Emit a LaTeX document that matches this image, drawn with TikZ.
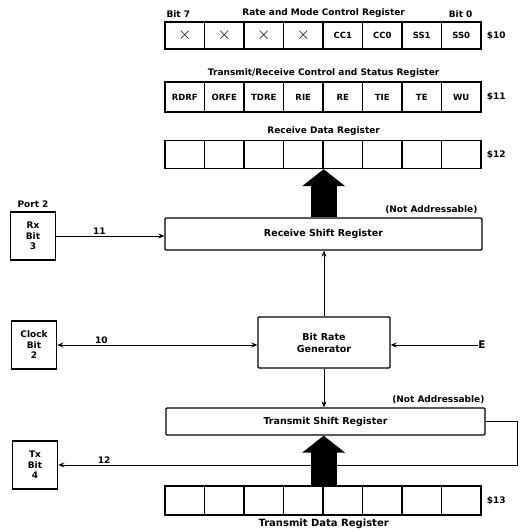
\documentclass[tikz,border=0pt]{standalone}
\usepackage{fontspec}
\setmainfont{DejaVu Sans}
\usetikzlibrary{arrows.meta,positioning,calc}

\begin{document}
\begin{tikzpicture}[
    x=1pt, y=-1pt,
    cell/.style={rectangle, draw, line width=1.3pt, minimum width=39.5pt,
                 minimum height=28pt, inner sep=0pt, font=\bfseries\fontsize{8.5}{9}\selectfont},
    unit/.style={rectangle, draw, line width=1.3pt, rounded corners=1pt, align=center,
                 inner sep=0pt, font=\bfseries\fontsize{9.5}{12}\selectfont},
    pin/.style={rectangle, draw, line width=1.5pt, minimum width=45pt, minimum height=48pt,
                align=center, inner sep=0pt, font=\bfseries\fontsize{9}{10.5}\selectfont},
    caption/.style={font=\bfseries\fontsize{9}{10}\selectfont, inner sep=1pt},
    addr/.style={font=\bfseries\fontsize{9}{10}\selectfont, inner sep=1pt},
    wire/.style={line width=0.9pt},
    fat/.style={line width=26pt, -{Triangle[length=17pt 0,width=42pt 0]}},
    >={Stealth[length=6pt,width=5pt]}
]
\useasboundingbox (0,0) rectangle (519,532);

\foreach \lbl [count=\i] in {\fontsize{16}{16}\selectfont$\times$,\fontsize{16}{16}\selectfont$\times$,
                             \fontsize{16}{16}\selectfont$\times$,\fontsize{16}{16}\selectfont$\times$,CC1,CC0,SS1,SS0}
  \node[cell, minimum height=27pt] (rm\i) at ({145.25+39.5*\i},35.5) {\lbl};
\foreach \lbl [count=\i] in {RDRF,ORFE,TDRE,RIE,RE,TIE,TE,WU}
  \node[cell, minimum height=30pt] (sc\i) at ({145.25+39.5*\i},97) {\lbl};
\foreach \i in {1,...,8}
  \node[cell] (rd\i) at ({145.25+39.5*\i},154.5) {};
\foreach \i in {1,...,8}
  \node[cell, minimum height=29pt] (td\i) at ({145.25+39.5*\i},500.5) {};

\node[addr, right=4pt of rm8] (a10) {\$10};
\node[addr, right=4pt of sc8] (a11) {\$11};
\node[addr, right=4pt of rd8] (a12) {\$12};
\node[addr, right=4pt of td8] (a13) {\$13};

\node[caption, above right=3pt and 1pt of rm1.north west] (bit7) {Bit 7};
\node[caption, above left=3pt and 8pt of rm8.north east] (bit0) {Bit 0};
\node[caption, above=3pt of rm4.north east] (rmt) {Rate and Mode Control Register};
\node[caption, above=3pt of sc4.north east] (sct) {Transmit/Receive Control and Status Register};
\node[caption, above=3pt of rd4.north east] (rdt) {Receive Data Register};
\node[unit, draw=none, font=\bfseries\fontsize{10}{12}\selectfont, below=3pt of td4.south east] (tdt) {Transmit Data Register};

\node[unit, minimum width=317pt, minimum height=32pt] (rsr) at (323.5,234) {Receive Shift Register};
\node[unit, minimum width=132pt, minimum height=51pt] (brg) at (324,342.5) {Bit Rate\\Generator};
\node[unit, minimum width=319pt, minimum height=27pt] (tsr) at (325.5,421.5) {Transmit Shift Register};

\node[addr, above left=2pt and 4pt of rsr.north east] (na1) {(Not Addressable)};
\node[addr, above left=2pt and 0pt of tsr.north east] (na2) {(Not Addressable)};

\node[pin] (rx)  at (33,236)  {Rx\\Bit\\3};
\node[pin] (clk) at (34,345)  {Clock\\Bit\\2};
\node[pin] (tx)  at (35,465)  {Tx\\Bit\\4};
\node[caption, above=2pt of rx] (port) {Port 2};
\node[unit, draw=none, font=\bfseries\fontsize{10.5}{12}\selectfont] (eclk) at (482,345) {E};

\draw[wire, ->] (rx.east) -- (rx.east -| rsr.west) node[pos=0.4, above, addr] {11};
\draw[wire, <->] (clk.east) -- (clk.east -| brg.west) node[pos=0.22, above, addr] {10};
\draw[wire, ->] (eclk.west) -- (eclk.west -| brg.east);
\draw[wire, ->] (brg.north) -- (brg.north |- rsr.south);
\draw[wire, ->] (brg.south) -- (brg.south |- tsr.north);
\draw[wire, ->] (tsr.east) -- ++(32,0) |- (tx.east) node[pos=0.95, above, addr] {12};

\draw[fat] (rsr.north -| rd4.south east) -- (rd4.south east);
\draw[fat] (td4.north east) -- (td4.north east |- tsr.south);
\end{tikzpicture}
\end{document}
